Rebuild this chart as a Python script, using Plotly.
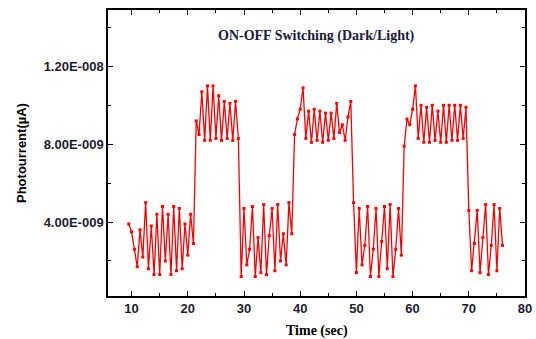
import plotly.graph_objects as go

# Photocurrent values (in units of 1e-9), sampled every 0.5 s starting at t = 9.5 s
dark_1 = [3.9, 3.5, 2.6, 1.7, 3.6, 2.2, 5.0, 1.6, 3.8, 1.3, 4.4, 1.3, 4.8, 2.0, 4.4, 1.3,
          4.8, 1.5, 4.7, 1.6, 3.9, 2.3, 4.4, 2.9]
light_1 = [9.2, 8.5, 10.7, 8.2, 11.0, 8.2, 11.0, 8.3, 10.5, 8.2, 10.2, 8.3, 10.1, 8.2, 10.2, 8.3]
dark_2 = [1.2, 4.7, 1.8, 2.6, 4.8, 1.2, 3.2, 1.4, 4.9, 1.3, 3.3, 4.7, 1.5, 4.9, 2.0, 3.4,
          1.8, 5.0, 3.4]
light_2 = [8.5, 9.3, 9.8, 10.9, 8.3, 9.7, 8.1, 9.8, 8.2, 9.7, 8.1, 9.6, 8.2, 9.6, 8.3, 10.1,
           8.6, 9.0, 8.2, 9.4, 10.2]
dark_3 = [5.0, 1.4, 4.7, 1.8, 2.8, 4.8, 1.2, 2.6, 4.7, 1.2, 3.0, 4.8, 1.6, 4.9, 1.2, 2.6,
          4.7, 2.3]
light_3 = [7.9, 9.3, 9.0, 9.8, 11.0, 8.3, 10.0, 8.1, 9.9, 8.1, 10.0, 8.2, 9.7, 8.1, 10.0, 8.1,
           10.0, 8.2, 10.0, 8.2, 10.0, 8.3, 9.9]
dark_4 = [4.6, 1.5, 2.9, 4.6, 1.4, 3.2, 4.9, 1.3, 2.8, 4.9, 1.5, 4.7, 2.8]

t_start = 9.5
t_step = 0.5

x_tick_vals = [10, 20, 30, 40, 50, 60, 70, 80]
y_tick_vals = [4e-9, 8e-9, 1.2e-8]
y_tick_text = ["4.00E-009", "8.00E-009", "1.20E-008"]

values = [v * 1e-9 for v in dark_1 + light_1 + dark_2 + light_2 + dark_3 + light_3 + dark_4]
time_sec = [t_start + t_step * i for i in range(len(values))]

fig = go.Figure()
fig.add_trace(go.Scatter(
    x=time_sec, y=values, mode="lines+markers",
    line=dict(color="#ff0000", width=1.3),
    marker=dict(color="#ff0000", size=3, symbol="square"),
    showlegend=False,
))

tick_color = "#1c1c30"
plot_h = 339 - 10 - 43

fig.update_layout(
    width=536, height=339,
    margin=dict(l=108, r=11, t=10, b=43, autoexpand=False),
    paper_bgcolor="white", plot_bgcolor="white",
    annotations=[
        dict(text="<b>ON-OFF Switching (Dark/Light)</b>", x=0.5, y=1 - (36 - 10) / plot_h,
             xref="paper", yref="paper", showarrow=False, yanchor="middle",
             font=dict(family="Liberation Serif", size=14, color="#1a1a3a")),
        dict(text="<b>Time (sec)</b>", x=0.5, y=0, xref="paper", yref="paper",
             yshift=-35, yanchor="middle", showarrow=False,
             font=dict(family="Liberation Serif", size=14, color="black")),
        dict(text="<b>Photourrent(µA)</b>", x=0, y=0.5, xref="paper", yref="paper",
             xshift=-87, xanchor="center", yanchor="middle", textangle=-90, showarrow=False,
             font=dict(family="Liberation Sans", size=13, color="black")),
    ],
)

fig.update_xaxes(
    range=[5.8, 80], tickvals=x_tick_vals, ticktext=[f"<b>{v}</b>" for v in x_tick_vals],
    ticks="inside", ticklen=5, tickwidth=1.3, tickcolor="black",
    minor=dict(tickvals=[15, 25, 35, 45, 55, 65, 75], ticks="inside", ticklen=3,
               tickcolor="black", tickwidth=1.3),
    showline=True, linecolor="black", linewidth=1.5, mirror="ticks",
    showgrid=False, zeroline=False, automargin=False,
    tickfont=dict(family="Liberation Sans", size=13, color=tick_color),
)
fig.update_yaxes(
    range=[0.2e-9, 14.9e-9], tickvals=y_tick_vals, ticktext=[f"<b>{t}</b>" for t in y_tick_text],
    ticks="inside", ticklen=5, tickwidth=1.3, tickcolor="black",
    minor=dict(tickvals=[2e-9, 6e-9, 1e-8, 1.4e-8], ticks="inside", ticklen=3,
               tickcolor="black", tickwidth=1.3),
    showline=True, linecolor="black", linewidth=1.5, mirror="ticks",
    showgrid=False, zeroline=False, automargin=False,
    tickfont=dict(family="Liberation Sans", size=13, color=tick_color),
)

fig.write_html("out.html", config={"displayModeBar": False},
               post_script="document.body.style.margin='0';")
